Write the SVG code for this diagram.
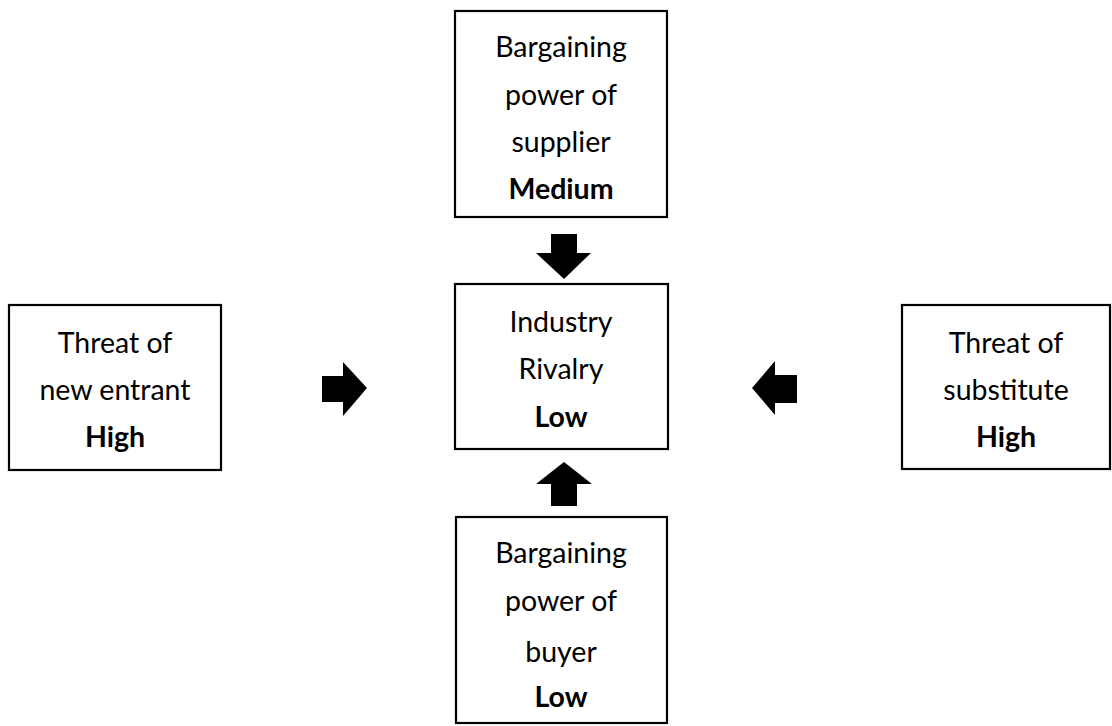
<svg xmlns="http://www.w3.org/2000/svg" width="1112" height="726" viewBox="0 0 1112 726">
<style>
.box{fill:#fff;stroke:#000;stroke-width:2.2}
.t{font-family:Lato,"Open Sans","Liberation Sans",sans-serif;font-size:28.5px;fill:#000;text-anchor:middle}
.b{font-weight:bold}
.arr{fill:#000;stroke:none}
</style>
<rect width="1112" height="726" fill="#fff"/>
<g id="supplier">
<rect class="box" x="455" y="11" width="212" height="206"/>
<text class="t" x="561" y="57">Bargaining</text>
<text class="t" x="561" y="105">power of</text>
<text class="t" x="561" y="152">supplier</text>
<text class="t b" x="561" y="199">Medium</text>
</g>
<g id="rivalry">
<rect class="box" x="455" y="284" width="213" height="165"/>
<text class="t" x="561" y="332">Industry</text>
<text class="t" x="561" y="379">Rivalry</text>
<text class="t b" x="561" y="427">Low</text>
</g>
<g id="entrant">
<rect class="box" x="9" y="305" width="212" height="165"/>
<text class="t" x="115" y="353">Threat of</text>
<text class="t" x="115" y="400">new entrant</text>
<text class="t b" x="115" y="447">High</text>
</g>
<g id="substitute">
<rect class="box" x="902" y="305" width="208" height="164"/>
<text class="t" x="1006" y="353">Threat of</text>
<text class="t" x="1006" y="400">substitute</text>
<text class="t b" x="1006" y="447">High</text>
</g>
<g id="buyer">
<rect class="box" x="456" y="517" width="211" height="206"/>
<text class="t" x="561" y="563">Bargaining</text>
<text class="t" x="561" y="611">power of</text>
<text class="t" x="561" y="662">buyer</text>
<text class="t b" x="561" y="707">Low</text>
</g>
<g id="connectors">
<polygon class="arr" points="551,234 577,234 577,253 591,253 564,279 536,253 551,253"/>
<polygon class="arr" points="551,506 577,506 577,484 592,484 564,462 536,484 551,484"/>
<polygon class="arr" points="322,376 343,376 343,362 367,388 343,416 343,402 322,402"/>
<polygon class="arr" points="797,375 775,375 775,361 752,388 775,415 775,403 797,403"/>
</g>
</svg>
